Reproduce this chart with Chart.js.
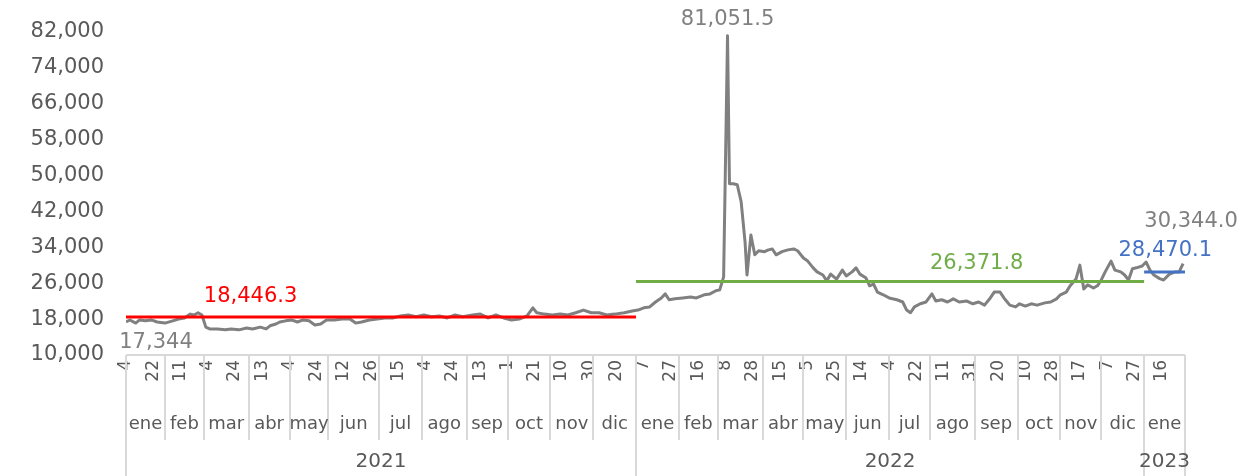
<!DOCTYPE html>
<html>
<head>
<meta charset="utf-8">
<script src="https://cdn.jsdelivr.net/npm/chart.js@4.4.1/dist/chart.umd.min.js"></script>
<style>
html,body{margin:0;padding:0;background:#ffffff;}
canvas{display:block;}
</style>
</head>
<body>
<canvas id="c" width="1252" height="476"></canvas>
<script>
// ---- Data ----
// business-day index of each observation (0 = 4 ene 2021)
const dayIndex = [
0,2,5,7,10,13,16,20,24,27,30,33,35,37,39,41,43,47,51,54,58,62,65,69,72,74,77,79,82,85,88,91,94,97,100,103,107,111,115,118,121,125,129,133,137,141,145,149,153,157,161,165,169,173,178,182,186,190,194,198,202,206,209,211,215,219,223,227,231,235,239,243,247,251,256,260,263,
266,269,272,275,277,279,282,286,290,293,297,300,303,305,307,309,310,312,314,316,318,319,321,323,325,328,330,332,334,337,340,343,345,348,350,353,355,358,360,362,365,368,370,373,375,377,380,382,384,386,389,392,396,399,401,403,405,408,411,414,416,419,422,425,428,432,435,438,441,444,446,449,451,454,457,459,462,465,468,472,475,478,480,483,485,488,490,492,494,497,499,501,503,506,508,511,513,515,517,519,522,524,526,528,531,533,536,539,541,543
];
const priceValues = [
17344,17800,17100,17800,17600,17800,17350,17100,17600,18000,18250,19100,18900,19400,18900,16200,15800,15800,15600,15800,15600,16000,15800,16200,15800,16500,16900,17350,17600,17800,17350,17800,17600,16700,16900,17800,17800,18000,18000,17100,17350,17800,18000,18250,18250,18700,18900,18500,18900,18500,18700,18250,18900,18500,18900,19100,18250,18900,18250,17800,18000,18700,20500,19400,19100,18900,19100,18900,19400,20000,19400,19400,18900,19100,19400,19800,20000,
20500,20700,21800,22700,23600,22300,22500,22700,22900,22700,23400,23600,24300,24500,27400,81051.5,48100,48100,47900,44100,35200,27800,36700,32300,33200,33000,33400,33600,32300,33000,33400,33600,33200,31600,31000,29400,28500,27800,26500,28000,26900,28900,27600,28500,29400,28000,27200,25400,25800,24000,23400,22700,22300,21800,20000,19400,20700,21400,21800,23600,22000,22300,21800,22500,21800,22000,21400,21800,21100,22700,24000,24000,22700,21100,20700,21400,20900,21400,21100,21600,21800,22500,23400,24000,25400,26900,30000,24700,25600,24900,25400,26700,28500,30900,28900,28500,27800,26700,29200,29400,29800,30700,28900,27800,27000,26700,28000,28500,28500,30344
];
// yearly averages
const avg2021 = 18446.3;
const avg2022 = 26371.8;
const avg2023 = 28470.1;
// axis labels
const dayTickLabels = ['4','22','11','4','24','13','4','24','12','26','15','4','24','13','1','21','10','30','20',
  '7','27','16','8','28','15','5','25','14','4','22','11','31','20','10','28','17','7','27','16'];
const dayTickStep = 14;
const monthNames = ['ene','feb','mar','abr','may','jun','jul','ago','sep','oct','nov','dic',
  'ene','feb','mar','abr','may','jun','jul','ago','sep','oct','nov','dic','ene'];
const monthDayCounts = [20,20,23,21,20,26,22,23,21,22,22,22, 22,20,23,21,22,22,21,23,22,22,21,22, 21];
const yearNames = ['2021','2022','2023'];
const monthsPerYear = [12,12,1];
const yTicks = [10000,18000,26000,34000,42000,50000,58000,66000,74000,82000];

// ---- derived ----
const monthEdges = [0];
monthDayCounts.forEach(c => monthEdges.push(monthEdges[monthEdges.length-1] + c));
const yearEdges = [0];
{ let m = 0; monthsPerYear.forEach(n => { m += n; yearEdges.push(monthEdges[m]); }); }
const totalDays = monthEdges[monthEdges.length-1];
const series = dayIndex.map((d,i)=>({x:d, y:priceValues[i]}));
const avgLine = (a,b,v)=>[{x:a,y:v},{x:b,y:v}];
const peakPos = priceValues.indexOf(Math.max(...priceValues));
const fmt = (v,dec)=>v.toLocaleString('en-US',{minimumFractionDigits:dec,maximumFractionDigits:dec});

const FONT = "'DejaVu Sans', sans-serif";
Chart.defaults.font.family = FONT;

const decor = {
  id:'decor',
  afterDraw(chart){
    const {ctx, chartArea:{left,right,bottom}, scales:{x,y}} = chart;
    const H = chart.height;
    ctx.save();
    ctx.strokeStyle = '#d9d9d9';
    ctx.lineWidth = 2;
    ctx.beginPath(); ctx.moveTo(left, bottom); ctx.lineTo(right, bottom); ctx.stroke();
    // month separators
    monthEdges.forEach(e=>{
      const px = Math.round(x.getPixelForValue(e));
      const full = yearEdges.includes(e);
      ctx.beginPath(); ctx.moveTo(px, bottom); ctx.lineTo(px, full ? H : 440); ctx.stroke();
    });
    // month labels
    ctx.fillStyle = '#595959';
    ctx.textAlign = 'center';
    ctx.textBaseline = 'middle';
    ctx.font = "18px " + FONT;
    monthNames.forEach((m,i)=>{
      const cx = (x.getPixelForValue(monthEdges[i]) + x.getPixelForValue(monthEdges[i+1]))/2;
      ctx.fillText(m, cx, 424);
    });
    ctx.font = "20px " + FONT;
    yearNames.forEach((yr,i)=>{
      const cx = (x.getPixelForValue(yearEdges[i]) + x.getPixelForValue(yearEdges[i+1]))/2;
      ctx.fillText(yr, cx, 462);
    });
    // value annotations
    const notes = [
      {t: fmt(priceValues[peakPos],1), xi: dayIndex[peakPos], v: priceValues[peakPos], dx:0, dy:-16, c:'#808080'},
      {t: fmt(priceValues[0],0), xi: dayIndex[0], v: priceValues[0], dx:30, dy:21, c:'#808080'},
      {t: fmt(priceValues[priceValues.length-1],1), xi: dayIndex[dayIndex.length-1], v: priceValues[priceValues.length-1], dx:8, dy:-42, c:'#808080'},
      {t: fmt(avg2021,1), xi: 64, v: avg2021, dx:0, dy:-21, c:'#ff0000'},
      {t: fmt(avg2022,1), xi: 437, v: avg2022, dx:0, dy:-18, c:'#70ad47'},
      {t: fmt(avg2023,1), xi: 539, v: avg2023, dx:-10, dy:-21, c:'#4472c4'}
    ];
    ctx.font = "21px " + FONT;
    notes.forEach(n=>{
      ctx.fillStyle = n.c;
      ctx.fillText(n.t, x.getPixelForValue(n.xi)+n.dx, y.getPixelForValue(n.v)+n.dy);
    });
    ctx.restore();
  }
};

new Chart(document.getElementById('c'), {
  type:'line',
  data:{
    datasets:[
      {data: avgLine(yearEdges[0], yearEdges[1], avg2021), borderColor:'#ff0000', borderWidth:3, pointRadius:0, order:1},
      {data: avgLine(yearEdges[1], yearEdges[2], avg2022), borderColor:'#70ad47', borderWidth:3, pointRadius:0, order:1},
      {data: avgLine(yearEdges[2], yearEdges[3], avg2023), borderColor:'#4472c4', borderWidth:3, pointRadius:0, order:0},
      {data: series, borderColor:'#808080', borderWidth:3, pointRadius:0, tension:0, order:2, borderJoinStyle:'round'}
    ]
  },
  options:{
    responsive:false,
    animation:false,
    layout:{padding:{top:31.5, right:67, left:0, bottom:0}},
    plugins:{legend:{display:false}, tooltip:{enabled:false}},
    scales:{
      x:{
        type:'linear', min:0, max:totalDays,
        grid:{display:false, drawTicks:false},
        border:{display:false},
        afterBuildTicks: s => { s.ticks = dayTickLabels.map((l,i)=>({value:i*dayTickStep})); },
        afterFit: s => { s.height = 121; },
        ticks:{
          autoSkip:false, minRotation:90, maxRotation:90, padding:5,
          color:'#595959', font:{size:17},
          callback:(v,i)=>dayTickLabels[i]
        }
      },
      y:{
        min:10000, max:82000,
        grid:{display:false, drawTicks:true, tickLength:22},
        border:{display:false},
        afterBuildTicks: s => { s.ticks = yTicks.map(v=>({value:v})); },
        afterFit: s => { s.width = 126; },
        ticks:{
          padding:0, color:'#595959', font:{size:21},
          callback:v=>v.toLocaleString('en-US')
        }
      }
    }
  },
  plugins:[decor]
});
</script>
</body>
</html>
